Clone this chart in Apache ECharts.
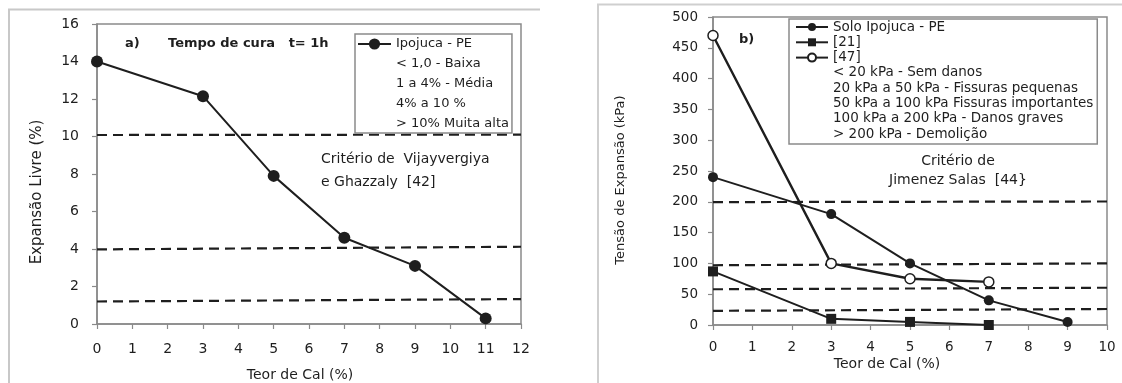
<!DOCTYPE html>
<html><head><meta charset="utf-8">
<script src="https://cdn.jsdelivr.net/npm/echarts@6/dist/echarts.min.js"></script>
<style>html,body{margin:0;padding:0;background:#fff}#c{width:1122px;height:383px}</style>
</head><body><div id="c"></div>
<script>
// ---- Panel a) data ----
const xA = [0, 3, 5, 7, 9, 11];
const ipojucaA = [14, 12.15, 7.9, 4.6, 3.1, 0.3];
const limitXA = [0, 12];
const limitsA = [[10.08, 10.1], [3.98, 4.12], [1.2, 1.33]];
const legendA = ['Ipojuca - PE', '< 1,0 - Baixa', '1 a 4% - Média', '4% a 10 %', '> 10% Muita alta'];

// ---- Panel b) data ----
const xB = [0, 3, 5, 7, 9];
const soloB = [240, 180, 100, 40, 5];
const x21 = [0, 3, 5, 7];
const ref21 = [87, 10, 5, 0];
const x47 = [0, 3, 5, 7];
const ref47 = [470, 100, 75, 70];
const limitXB = [0, 10];
const limitsB = [[199.5, 200.5], [97, 100], [58, 60.5], [23, 26]];
const legendB = ['Solo Ipojuca - PE', '[21]', '[47]', '< 20 kPa - Sem danos',
  '20 kPa a 50 kPa - Fissuras pequenas', '50 kPa a 100 kPa Fissuras importantes',
  '100 kPa a 200 kPa - Danos graves', '> 200 kPa - Demolição'];

const FONT = '"DejaVu Sans"';
const INK = '#1e1e1e';
const AX = '#8a8a8a';

function pairs(xs, ys) { return xs.map((x, i) => [x, ys[i]]); }
function dashed(xs, ys, gi) {
  return {type: 'line', xAxisIndex: gi, yAxisIndex: gi, data: pairs(xs, ys), symbol: 'none', silent: true,
    lineStyle: {color: INK, width: 2.2, type: [10, 6]}, z: 1};
}
function dummy(name, gi) {
  return {type: 'line', name: name, xAxisIndex: gi, yAxisIndex: gi, data: [], symbol: 'none',
    itemStyle: {color: 'rgba(0,0,0,0)'}, lineStyle: {color: 'rgba(0,0,0,0)'}};
}
function xAxis(gi, max, margin, fs) {
  return {type: 'value', gridIndex: gi, min: 0, max: max, interval: 1,
    axisLine: {lineStyle: {color: AX, width: 1.5}},
    axisTick: {show: true, inside: false, length: 5, lineStyle: {color: AX, width: 1.2}},
    splitLine: {show: false},
    axisLabel: {color: INK, fontFamily: FONT, fontSize: fs, margin: margin}};
}
function yAxis(gi, max, interval, margin, fs) {
  return {type: 'value', gridIndex: gi, min: 0, max: max, interval: interval,
    axisLine: {show: true, lineStyle: {color: AX, width: 1.5}},
    axisTick: {show: true, inside: false, length: 5, lineStyle: {color: AX, width: 1.2}},
    splitLine: {show: false},
    axisLabel: {color: INK, fontFamily: FONT, fontSize: fs, margin: margin}};
}

const series = [];
// panel a
limitsA.forEach(l => series.push(dashed(limitXA, l, 0)));
series.push({type: 'line', name: legendA[0], xAxisIndex: 0, yAxisIndex: 0, data: pairs(xA, ipojucaA),
  symbol: 'circle', symbolSize: 12, itemStyle: {color: INK}, lineStyle: {color: INK, width: 2}, z: 3});
legendA.slice(1).forEach(n => series.push(dummy(n, 0)));
// panel b
limitsB.forEach(l => series.push(dashed(limitXB, l, 1)));
series.push({type: 'line', name: legendB[0], xAxisIndex: 1, yAxisIndex: 1, data: pairs(xB, soloB),
  symbol: 'circle', symbolSize: 10, itemStyle: {color: INK}, lineStyle: {color: INK, width: 2}, z: 3});
series.push({type: 'line', name: legendB[1], xAxisIndex: 1, yAxisIndex: 1, data: pairs(x21, ref21),
  symbol: 'rect', symbolSize: 10, itemStyle: {color: INK}, lineStyle: {color: INK, width: 2}, z: 3});
series.push({type: 'line', name: legendB[2], xAxisIndex: 1, yAxisIndex: 1, data: pairs(x47, ref47),
  symbol: 'circle', symbolSize: 10, itemStyle: {color: '#fff', borderColor: INK, borderWidth: 1.5},
  lineStyle: {color: INK, width: 2.4}, z: 3});
legendB.slice(3).forEach(n => series.push(dummy(n, 1)));

const txt = (x, y, text, size, extra) => Object.assign({type: 'text', x: x, y: y, z: 10,
  style: Object.assign({text: text, fill: INK, font: size + 'px ' + FONT, textVerticalAlign: 'middle'}, extra || {})});

const option = {
  animation: false,
  grid: [
    {left: 97, right: 601, top: 24, bottom: 59, show: true, borderColor: AX, borderWidth: 1.5, backgroundColor: 'transparent'},
    {left: 713, right: 15, top: 17, bottom: 58, show: true, borderColor: AX, borderWidth: 1.5, backgroundColor: 'transparent'}
  ],
  xAxis: [xAxis(0, 12, 18, 14), xAxis(1, 10, 15, 13.5)],
  yAxis: [yAxis(0, 16, 2, 18, 14), yAxis(1, 500, 50, 15, 13.5)],
  legend: [
    {data: legendA, orient: 'vertical', left: 355, top: 34, padding: [3, 3, 2, 2], itemGap: 6,
      itemWidth: 33, itemHeight: 14, backgroundColor: '#fff', borderColor: AX, borderWidth: 1.5, borderRadius: 0,
      selectedMode: false, textStyle: {color: INK, fontFamily: FONT, fontSize: 13, lineHeight: 14}},
    {data: legendB, orient: 'vertical', left: 789, top: 19, padding: [1, 4, 3, 6], itemGap: 1.3,
      itemWidth: 32, itemHeight: 10, backgroundColor: '#fff', borderColor: AX, borderWidth: 1.5, borderRadius: 0,
      selectedMode: false, textStyle: {color: INK, fontFamily: FONT, fontSize: 13.5, lineHeight: 13}}
  ],
  graphic: [
    // panel frames
    {type: 'polyline', shape: {points: [[9, 383], [9, 9.5], [540, 9.5]]}, style: {stroke: '#c8c8c8', lineWidth: 2, fill: null}, silent: true},
    {type: 'polyline', shape: {points: [[598, 383], [598, 4.5], [1122, 4.5]]}, style: {stroke: '#cfcfcf', lineWidth: 2, fill: null}, silent: true},
    // panel a texts
    txt(125, 44, 'a)', 13, {font: 'bold 13px ' + FONT}),
    txt(168, 44, 'Tempo de cura   t= 1h', 13, {font: 'bold 13px ' + FONT}),
    txt(321, 159, 'Critério de  Vijayvergiya', 14),
    txt(321, 182, 'e Ghazzaly  [42]', 14),
    txt(300, 375, 'Teor de Cal (%)', 14, {textAlign: 'center'}),
    {type: 'text', x: 37.5, y: 192, rotation: Math.PI / 2, z: 10,
      style: {text: 'Expansão Livre (%)', fill: INK, font: '15px ' + FONT, textAlign: 'center', textVerticalAlign: 'middle'}},
    // panel b texts
    txt(739, 40, 'b)', 13, {font: 'bold 13px ' + FONT}),
    txt(958, 161, 'Critério de', 14, {textAlign: 'center'}),
    txt(958, 180, 'Jimenez Salas  [44}', 14, {textAlign: 'center'}),
    txt(887, 364, 'Teor de Cal (%)', 14, {textAlign: 'center'}),
    {type: 'text', x: 621, y: 180, rotation: Math.PI / 2, z: 10,
      style: {text: 'Tensão de Expansão (kPa)', fill: INK, font: '13px ' + FONT, textAlign: 'center', textVerticalAlign: 'middle'}}
  ],
  series: series
};
const chart = echarts.init(document.getElementById('c'), null, {renderer: 'canvas'});
chart.setOption(option);
</script></body></html>
